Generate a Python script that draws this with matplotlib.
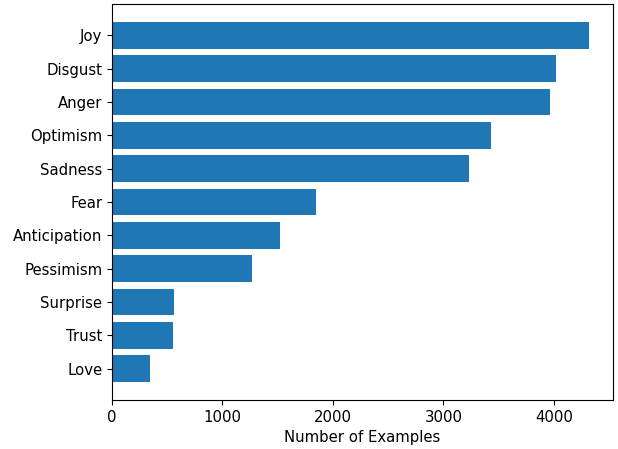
import matplotlib
matplotlib.use("Agg")
import matplotlib.pyplot as plt

emotions = ['Joy', 'Disgust', 'Anger', 'Optimism', 'Sadness', 'Fear',
            'Anticipation', 'Pessimism', 'Surprise', 'Trust', 'Love']
counts = [4318, 4016, 3959, 3433, 3235, 1850, 1525, 1267, 563, 551, 347]

plt.rcParams['font.size'] = 10.7

fig, ax = plt.subplots(figsize=(6.18, 4.49), dpi=100)
# reversed so the biggest ends up on top
ax.barh(emotions[::-1], counts[::-1], color='#1f77b4')
ax.set_xlabel('Number of Examples')
fig.subplots_adjust(left=0.181, right=0.992, top=0.991, bottom=0.109)
fig.savefig('out.png')
